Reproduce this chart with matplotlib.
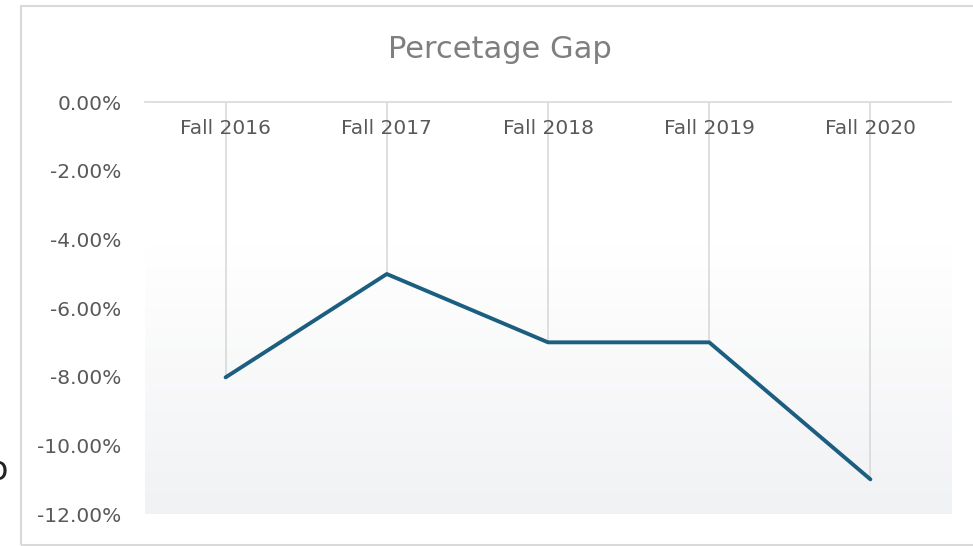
import numpy as np
import matplotlib
matplotlib.use('Agg')
import matplotlib.pyplot as plt
from matplotlib.patches import Rectangle
from matplotlib.colors import LinearSegmentedColormap
from matplotlib.ticker import FuncFormatter

categories = ['Fall 2016', 'Fall 2017', 'Fall 2018', 'Fall 2019', 'Fall 2020']
gap = [-0.0802, -0.0501, -0.0700, -0.0700, -0.1099]
y_ticks = [0.0, -0.02, -0.04, -0.06, -0.08, -0.10, -0.12]

W, H = 973, 546
fig = plt.figure(figsize=(W / 100, H / 100), dpi=100)
ax = fig.add_axes([145 / W, 1 - 514 / H, (951 - 145) / W, (514 - 102) / H])

x = np.arange(len(categories))

# plot area gradient (white at top -> light grey at bottom)
cmap = LinearSegmentedColormap.from_list('bg', [(0, '#ffffff'), (0.35, '#ffffff'), (1, '#f1f2f4')])
grad = np.linspace(0, 1, 256).reshape(-1, 1)
ax.imshow(grad, cmap=cmap, aspect='auto', extent=[-0.5, len(categories) - 0.5, -0.12, 0.0],
          origin='upper', zorder=0)
ax.set_xlim(-0.5, len(categories) - 0.5)
ax.set_ylim(-0.12, 0.0)

# drop lines
ax.vlines(x, gap, 0, color='#d9d9d9', lw=1.2, zorder=1)
ax.plot(x, gap, color='#1b5e80', lw=2.8, solid_capstyle='round', solid_joinstyle='round', zorder=3)

for s in ['left', 'right', 'top']:
    ax.spines[s].set_visible(False)
ax.spines['bottom'].set_position(('data', 0))
ax.spines['bottom'].set_color('#d9d9d9')
ax.spines['bottom'].set_linewidth(1.2)

ax.set_xticks(x)
ax.set_xticklabels(categories)
ax.set_yticks(y_ticks)
ax.yaxis.set_major_formatter(FuncFormatter(lambda v, p: f'{v * 100:.2f}%'))
ax.tick_params(axis='x', length=0, pad=12, labelsize=14.5, labelcolor='#595959')
ax.tick_params(axis='y', length=0, pad=17, labelsize=14.5, labelcolor='#595959')

fig.text(500 / W, 1 - 50 / H, 'Percetage Gap', ha='center', va='center', fontsize=22, color='#7f7f7f')

# chart border
fig.patches.append(Rectangle((21 / W, 1 - 545 / H), 1.2, (545 - 6) / H, transform=fig.transFigure,
                             fill=False, ec='#d9d9d9', lw=1.5))
fig.text(-13 / W, 1 - 470 / H, 'o', ha='left', va='center', fontsize=24, color='#222222')

fig.savefig('out.png', dpi=100)
